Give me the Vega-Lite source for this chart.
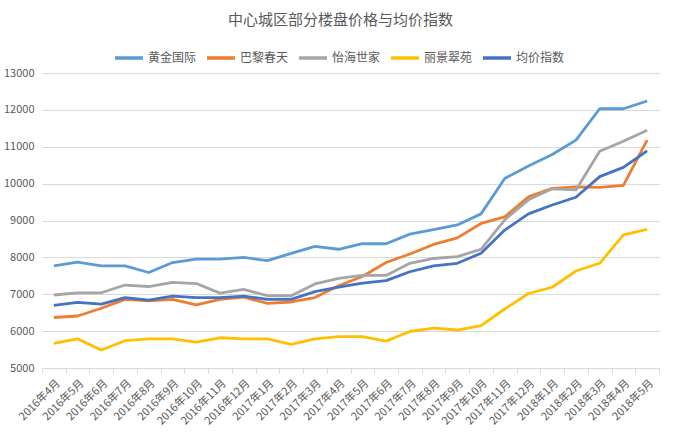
{
  "$schema": "https://vega.github.io/schema/vega-lite/v6.json",
  "width": 617,
  "height": 295,
  "autosize": {"type": "none"},
  "padding": {"left": 42, "top": 73, "right": 18, "bottom": 66},
  "background": "white",
  "config": {
    "font": "Noto Sans CJK SC",
    "view": {"stroke": null}
  },
  "title": {
    "text": "中心城区部分楼盘价格与均价指数",
    "font": "Noto Sans CJK SC",
    "fontSize": 15,
    "fontWeight": "normal",
    "color": "#595959",
    "anchor": "middle",
    "offset": 14,
    "dx": -10
  },
  "datasets": {
    "prices": [
      {"month": "2016年4月", "series": "黄金国际", "value": 7770},
      {"month": "2016年5月", "series": "黄金国际", "value": 7870},
      {"month": "2016年6月", "series": "黄金国际", "value": 7770},
      {"month": "2016年7月", "series": "黄金国际", "value": 7770},
      {"month": "2016年8月", "series": "黄金国际", "value": 7590},
      {"month": "2016年9月", "series": "黄金国际", "value": 7860},
      {"month": "2016年10月", "series": "黄金国际", "value": 7950},
      {"month": "2016年11月", "series": "黄金国际", "value": 7950},
      {"month": "2016年12月", "series": "黄金国际", "value": 8000},
      {"month": "2017年1月", "series": "黄金国际", "value": 7910},
      {"month": "2017年2月", "series": "黄金国际", "value": 8110},
      {"month": "2017年3月", "series": "黄金国际", "value": 8300},
      {"month": "2017年4月", "series": "黄金国际", "value": 8220},
      {"month": "2017年5月", "series": "黄金国际", "value": 8370},
      {"month": "2017年6月", "series": "黄金国际", "value": 8370},
      {"month": "2017年7月", "series": "黄金国际", "value": 8630},
      {"month": "2017年8月", "series": "黄金国际", "value": 8750},
      {"month": "2017年9月", "series": "黄金国际", "value": 8880},
      {"month": "2017年10月", "series": "黄金国际", "value": 9180},
      {"month": "2017年11月", "series": "黄金国际", "value": 10140},
      {"month": "2017年12月", "series": "黄金国际", "value": 10480},
      {"month": "2018年1月", "series": "黄金国际", "value": 10790},
      {"month": "2018年2月", "series": "黄金国际", "value": 11180},
      {"month": "2018年3月", "series": "黄金国际", "value": 12030},
      {"month": "2018年4月", "series": "黄金国际", "value": 12030},
      {"month": "2018年5月", "series": "黄金国际", "value": 12240},

      {"month": "2016年4月", "series": "巴黎春天", "value": 6370},
      {"month": "2016年5月", "series": "巴黎春天", "value": 6410},
      {"month": "2016年6月", "series": "巴黎春天", "value": 6620},
      {"month": "2016年7月", "series": "巴黎春天", "value": 6860},
      {"month": "2016年8月", "series": "巴黎春天", "value": 6820},
      {"month": "2016年9月", "series": "巴黎春天", "value": 6860},
      {"month": "2016年10月", "series": "巴黎春天", "value": 6710},
      {"month": "2016年11月", "series": "巴黎春天", "value": 6860},
      {"month": "2016年12月", "series": "巴黎春天", "value": 6920},
      {"month": "2017年1月", "series": "巴黎春天", "value": 6750},
      {"month": "2017年2月", "series": "巴黎春天", "value": 6790},
      {"month": "2017年3月", "series": "巴黎春天", "value": 6910},
      {"month": "2017年4月", "series": "巴黎春天", "value": 7230},
      {"month": "2017年5月", "series": "巴黎春天", "value": 7480},
      {"month": "2017年6月", "series": "巴黎春天", "value": 7860},
      {"month": "2017年7月", "series": "巴黎春天", "value": 8090},
      {"month": "2017年8月", "series": "巴黎春天", "value": 8350},
      {"month": "2017年9月", "series": "巴黎春天", "value": 8530},
      {"month": "2017年10月", "series": "巴黎春天", "value": 8920},
      {"month": "2017年11月", "series": "巴黎春天", "value": 9100},
      {"month": "2017年12月", "series": "巴黎春天", "value": 9640},
      {"month": "2018年1月", "series": "巴黎春天", "value": 9870},
      {"month": "2018年2月", "series": "巴黎春天", "value": 9910},
      {"month": "2018年3月", "series": "巴黎春天", "value": 9900},
      {"month": "2018年4月", "series": "巴黎春天", "value": 9950},
      {"month": "2018年5月", "series": "巴黎春天", "value": 11180},

      {"month": "2016年4月", "series": "怡海世家", "value": 6980},
      {"month": "2016年5月", "series": "怡海世家", "value": 7040},
      {"month": "2016年6月", "series": "怡海世家", "value": 7040},
      {"month": "2016年7月", "series": "怡海世家", "value": 7250},
      {"month": "2016年8月", "series": "怡海世家", "value": 7210},
      {"month": "2016年9月", "series": "怡海世家", "value": 7320},
      {"month": "2016年10月", "series": "怡海世家", "value": 7290},
      {"month": "2016年11月", "series": "怡海世家", "value": 7030},
      {"month": "2016年12月", "series": "怡海世家", "value": 7130},
      {"month": "2017年1月", "series": "怡海世家", "value": 6960},
      {"month": "2017年2月", "series": "怡海世家", "value": 6960},
      {"month": "2017年3月", "series": "怡海世家", "value": 7280},
      {"month": "2017年4月", "series": "怡海世家", "value": 7430},
      {"month": "2017年5月", "series": "怡海世家", "value": 7510},
      {"month": "2017年6月", "series": "怡海世家", "value": 7510},
      {"month": "2017年7月", "series": "怡海世家", "value": 7840},
      {"month": "2017年8月", "series": "怡海世家", "value": 7970},
      {"month": "2017年9月", "series": "怡海世家", "value": 8020},
      {"month": "2017年10月", "series": "怡海世家", "value": 8220},
      {"month": "2017年11月", "series": "怡海世家", "value": 9020},
      {"month": "2017年12月", "series": "怡海世家", "value": 9560},
      {"month": "2018年1月", "series": "怡海世家", "value": 9860},
      {"month": "2018年2月", "series": "怡海世家", "value": 9830},
      {"month": "2018年3月", "series": "怡海世家", "value": 10880},
      {"month": "2018年4月", "series": "怡海世家", "value": 11150},
      {"month": "2018年5月", "series": "怡海世家", "value": 11450},

      {"month": "2016年4月", "series": "丽景翠苑", "value": 5670},
      {"month": "2016年5月", "series": "丽景翠苑", "value": 5790},
      {"month": "2016年6月", "series": "丽景翠苑", "value": 5490},
      {"month": "2016年7月", "series": "丽景翠苑", "value": 5740},
      {"month": "2016年8月", "series": "丽景翠苑", "value": 5790},
      {"month": "2016年9月", "series": "丽景翠苑", "value": 5790},
      {"month": "2016年10月", "series": "丽景翠苑", "value": 5700},
      {"month": "2016年11月", "series": "丽景翠苑", "value": 5820},
      {"month": "2016年12月", "series": "丽景翠苑", "value": 5790},
      {"month": "2017年1月", "series": "丽景翠苑", "value": 5790},
      {"month": "2017年2月", "series": "丽景翠苑", "value": 5640},
      {"month": "2017年3月", "series": "丽景翠苑", "value": 5790},
      {"month": "2017年4月", "series": "丽景翠苑", "value": 5850},
      {"month": "2017年5月", "series": "丽景翠苑", "value": 5850},
      {"month": "2017年6月", "series": "丽景翠苑", "value": 5730},
      {"month": "2017年7月", "series": "丽景翠苑", "value": 5990},
      {"month": "2017年8月", "series": "丽景翠苑", "value": 6080},
      {"month": "2017年9月", "series": "丽景翠苑", "value": 6030},
      {"month": "2017年10月", "series": "丽景翠苑", "value": 6150},
      {"month": "2017年11月", "series": "丽景翠苑", "value": 6600},
      {"month": "2017年12月", "series": "丽景翠苑", "value": 7020},
      {"month": "2018年1月", "series": "丽景翠苑", "value": 7190},
      {"month": "2018年2月", "series": "丽景翠苑", "value": 7630},
      {"month": "2018年3月", "series": "丽景翠苑", "value": 7840},
      {"month": "2018年4月", "series": "丽景翠苑", "value": 8610},
      {"month": "2018年5月", "series": "丽景翠苑", "value": 8760},

      {"month": "2016年4月", "series": "均价指数", "value": 6700},
      {"month": "2016年5月", "series": "均价指数", "value": 6780},
      {"month": "2016年6月", "series": "均价指数", "value": 6730},
      {"month": "2016年7月", "series": "均价指数", "value": 6910},
      {"month": "2016年8月", "series": "均价指数", "value": 6840},
      {"month": "2016年9月", "series": "均价指数", "value": 6950},
      {"month": "2016年10月", "series": "均价指数", "value": 6910},
      {"month": "2016年11月", "series": "均价指数", "value": 6910},
      {"month": "2016年12月", "series": "均价指数", "value": 6950},
      {"month": "2017年1月", "series": "均价指数", "value": 6860},
      {"month": "2017年2月", "series": "均价指数", "value": 6860},
      {"month": "2017年3月", "series": "均价指数", "value": 7070},
      {"month": "2017年4月", "series": "均价指数", "value": 7190},
      {"month": "2017年5月", "series": "均价指数", "value": 7300},
      {"month": "2017年6月", "series": "均价指数", "value": 7370},
      {"month": "2017年7月", "series": "均价指数", "value": 7610},
      {"month": "2017年8月", "series": "均价指数", "value": 7770},
      {"month": "2017年9月", "series": "均价指数", "value": 7840},
      {"month": "2017年10月", "series": "均价指数", "value": 8110},
      {"month": "2017年11月", "series": "均价指数", "value": 8740},
      {"month": "2017年12月", "series": "均价指数", "value": 9180},
      {"month": "2018年1月", "series": "均价指数", "value": 9420},
      {"month": "2018年2月", "series": "均价指数", "value": 9630},
      {"month": "2018年3月", "series": "均价指数", "value": 10190},
      {"month": "2018年4月", "series": "均价指数", "value": 10440},
      {"month": "2018年5月", "series": "均价指数", "value": 10890}
    ]
  },
  "data": {"name": "prices"},
  "mark": {"type": "line", "strokeWidth": 2.8, "strokeJoin": "round"},
  "encoding": {
    "x": {
      "field": "month",
      "type": "ordinal",
      "sort": null,
      "scale": {"type": "band", "paddingInner": 0, "paddingOuter": 0},
      "axis": {
        "title": null,
        "labelAngle": -45,
        "labelFontSize": 11,
        "labelColor": "#595959",
        "labelPadding": 4,
        "tickBand": "extent",
        "ticks": true,
        "tickSize": 5,
        "tickColor": "#d9d9d9",
        "domainColor": "#d9d9d9",
        "grid": false
      }
    },
    "y": {
      "field": "value",
      "type": "quantitative",
      "scale": {"domain": [5000, 13000], "nice": false, "zero": false},
      "axis": {
        "title": null,
        "format": "d",
        "values": [5000, 6000, 7000, 8000, 9000, 10000, 11000, 12000, 13000],
        "labelFontSize": 11,
        "labelColor": "#595959",
        "labelPadding": 8,
        "ticks": false,
        "domain": false,
        "grid": true,
        "gridColor": "#d9d9d9",
        "gridWidth": 1
      }
    },
    "color": {
      "field": "series",
      "type": "nominal",
      "scale": {
        "domain": ["黄金国际", "巴黎春天", "怡海世家", "丽景翠苑", "均价指数"],
        "range": ["#5B9BD5", "#ED7D31", "#A5A5A5", "#FFC000", "#4472C4"]
      },
      "legend": {
        "title": null,
        "orient": "none",
        "direction": "horizontal",
        "legendX": 71,
        "legendY": -31,
        "padding": 0,
        "symbolType": "stroke",
        "symbolSize": 784,
        "symbolStrokeWidth": 3.5,
        "labelFontSize": 12,
        "labelColor": "#595959",
        "labelOffset": 3,
        "columnPadding": 3
      }
    }
  }
}
